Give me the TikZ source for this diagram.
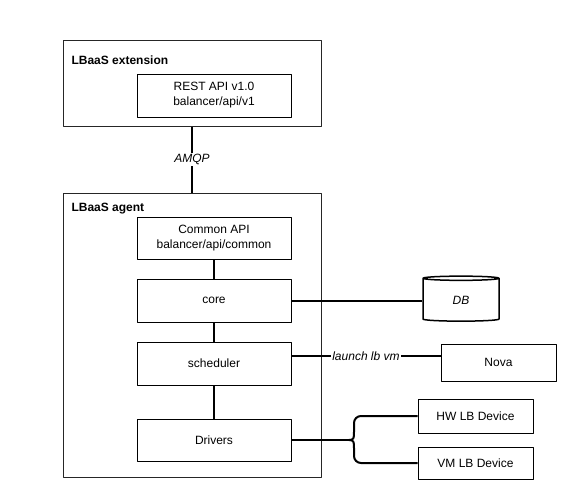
\documentclass[tikz,border=0pt]{standalone}
\usepackage{fontspec}
\setmainfont{Liberation Sans}
\usetikzlibrary{shapes.geometric, calc}

\begin{document}
\begin{tikzpicture}[x=1pt, y=-1pt, line join=round,
    every node/.style={font=\fontsize{12}{15}\selectfont},
    group/.style={draw=black!85, line width=1pt, minimum width=258pt},
    title/.style={anchor=west, font=\fontsize{12}{15}\selectfont\bfseries},
    block/.style={draw, line width=1pt, align=center, minimum width=154pt, minimum height=42pt},
    device/.style={draw, line width=1pt, minimum width=115pt},
    link/.style={line width=2pt},
    tag/.style={fill=white, inner sep=1.5pt, font=\fontsize{12}{15}\selectfont\itshape}]
  \useasboundingbox (0,0) rectangle (565,490);

  % Outer groups
  \node[group, minimum height=86pt] (ext) at (192,83) {};
  \node[group, minimum height=284pt] (agent) at (192,335) {};
  \node[title] (extlbl) at (68,60) {LBaaS extension};
  \node[title] (agentlbl) at (68,208.5) {LBaaS agent};

  % Inner blocks
  \node[block, minimum height=43pt] (rest) at (214,95.5) {REST API v1.0\\balancer/api/v1};
  \node[block] (common) at (214,238) {Common API\\balancer/api/common};
  \node[block, minimum height=43pt] (core) at (214,300.5) {core};
  \node[block, minimum height=43pt] (sched) at (214,363.5) {scheduler};
  \node[block] (drv) at (214,440) {Drivers};

  % Outside services
  \node[cylinder, shape border rotate=90, draw, line width=1.5pt, aspect=0.18,
        minimum width=76pt, minimum height=45pt,
        font=\fontsize{12}{15}\selectfont\itshape] (db) at (461,300.5) {DB};
  \node[device, minimum height=37pt] (nova) at (498.5,362.5) {Nova};
  \node[device, minimum height=34pt] (hw) at (475.5,416) {HW LB Device};
  \node[device, minimum height=32pt] (vm) at (475.5,463) {VM LB Device};

  % Links
  \draw[link] (ext.south) -- (agent.north) node[tag, midway] {AMQP};
  \draw[link] (common) -- (core);
  \draw[link] (core) -- (sched);
  \draw[link] (sched) -- (drv);
  \draw[link] (core) -- (db);
  \draw[link] ([yshift=7.5pt]sched.east) -- ([yshift=6.5pt]nova.west)
    node[tag, midway] {launch lb vm};

  % Fork to the LB devices
  \coordinate (fork) at (349,440);
  \draw[link] (drv) -- (fork);
  \draw[link] (fork) .. controls ($(fork)+(5,0)$) and ($(fork)+(5,-2)$) .. ($(fork)+(5,-8)$)
    [rounded corners=7pt] |- (hw.west);
  \draw[link] (fork) .. controls ($(fork)+(5,0)$) and ($(fork)+(5,2)$) .. ($(fork)+(5,8)$)
    [rounded corners=7pt] |- (vm.west);
\end{tikzpicture}
\end{document}
